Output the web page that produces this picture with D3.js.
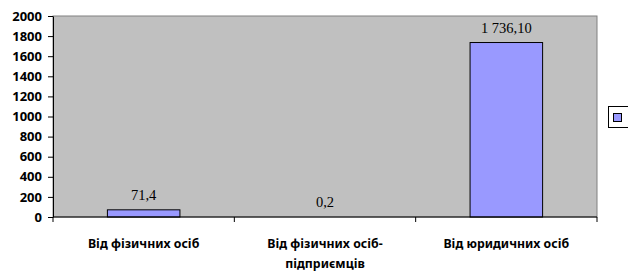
<!DOCTYPE html>
<html>
<head>
<meta charset="utf-8">
<script src="https://cdn.jsdelivr.net/npm/d3@7"></script>
<style>
  body { margin: 0; background: #fff; }
</style>
</head>
<body>
<script>
const categories = ["Від фізичних осіб", "Від фізичних осіб-підприємців", "Від юридичних осіб"];
const catLines = [["Від фізичних осіб"], ["Від фізичних осіб-", "підприємців"], ["Від юридичних осіб"]];
const values = [71.4, 0.2, 1736.1];
const valueLabels = ["71,4", "0,2", "1 736,10"];
const yTicks = [0, 200, 400, 600, 800, 1000, 1200, 1400, 1600, 1800, 2000];

const width = 628;
const height = 273;
const margin = { top: 16, right: 31, bottom: 56, left: 53 };
const labelFont = "'Noto Sans', 'Open Sans', sans-serif";

const svg = d3
  .select("body")
  .append("svg")
  .attr("width", width)
  .attr("height", height);

const x = d3
  .scaleBand()
  .domain(categories)
  .range([margin.left, width - margin.right])
  .paddingInner(0.6)
  .paddingOuter(0.3);

const y = d3
  .scaleLinear()
  .domain([0, 2000])
  .range([height - margin.bottom, margin.top]);

// plot area
svg
  .append("rect")
  .attr("x", margin.left)
  .attr("y", margin.top)
  .attr("width", width - margin.right - margin.left)
  .attr("height", height - margin.bottom - margin.top)
  .attr("fill", "#c0c0c0")
  .attr("stroke", "#808080");

// bars
svg
  .append("g")
  .selectAll("rect")
  .data(values)
  .join("rect")
  .attr("x", (d, i) => x(categories[i]))
  .attr("y", (d) => y(d))
  .attr("width", x.bandwidth())
  .attr("height", (d) => y(0) - y(d))
  .attr("fill", "#9999ff")
  .attr("stroke", (d) => (y(0) - y(d) < 0.5 ? "none" : "#000"))
  .attr("stroke-width", 1);

// value labels
svg
  .append("g")
  .selectAll("text")
  .data(values)
  .join("text")
  .attr("x", (d, i) => x(categories[i]) + x.bandwidth() / 2)
  .attr("y", (d) => y(d) - 10)
  .attr("text-anchor", "middle")
  .attr("font-family", "'Liberation Serif', 'Times New Roman', serif")
  .attr("font-size", 14.5)
  .attr("fill", "#000")
  .text((d, i) => valueLabels[i]);

// y axis
const yAxis = svg
  .append("g")
  .attr("transform", `translate(${margin.left},0)`)
  .call(
    d3.axisLeft(y).tickValues(yTicks).tickFormat(d3.format("d")).tickSize(5).tickSizeOuter(0)
  );
yAxis
  .selectAll("text")
  .attr("font-family", labelFont)
  .attr("font-weight", "bold")
  .attr("font-size", 13)
  .attr("fill", "#000")
  .attr("x", -11);
yAxis.select(".domain").attr("stroke", "#000");

// x axis, ticks on category boundaries
const bounds = categories.map((c) => x(c) - (x.step() * x.paddingInner()) / 2);
bounds.push(width - margin.right);
const xAxis = svg.append("g");
xAxis
  .append("line")
  .attr("x1", margin.left)
  .attr("x2", width - margin.right)
  .attr("y1", y(0))
  .attr("y2", y(0))
  .attr("stroke", "#000");
xAxis
  .selectAll("line.tk")
  .data(bounds)
  .join("line")
  .attr("class", "tk")
  .attr("x1", (d) => d)
  .attr("x2", (d) => d)
  .attr("y1", y(0))
  .attr("y2", y(0) + 5)
  .attr("stroke", "#000");

catLines.forEach((lines, i) => {
  const t = xAxis
    .append("text")
    .attr("text-anchor", "middle")
    .attr("font-family", labelFont)
    .attr("font-weight", "bold")
    .attr("font-size", 12.3)
    .attr("fill", "#000");
  lines.forEach((l, j) => {
    t.append("tspan")
      .attr("x", x(categories[i]) + x.bandwidth() / 2)
      .attr("y", y(0) + 31 + j * 20)
      .text(l);
  });
});

// legend
const legend = svg.append("g");
legend
  .append("rect")
  .attr("x", 608.5)
  .attr("y", 106.5)
  .attr("width", 30)
  .attr("height", 21)
  .attr("fill", "#fff")
  .attr("stroke", "#000");
legend
  .append("rect")
  .attr("x", 613.5)
  .attr("y", 113.5)
  .attr("width", 8)
  .attr("height", 8)
  .attr("fill", "#9999ff")
  .attr("stroke", "#000");
</script>
</body>
</html>
